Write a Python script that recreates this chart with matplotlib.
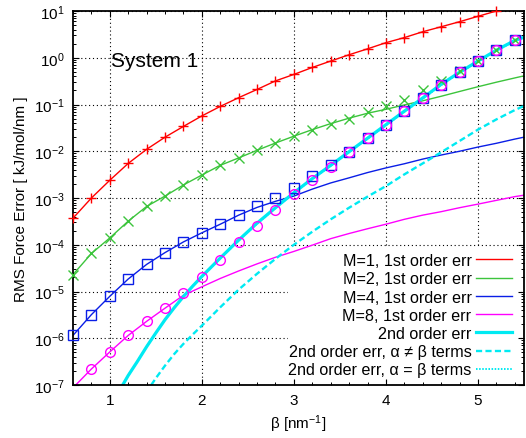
import numpy as np
import matplotlib
matplotlib.use("Agg")
import matplotlib.pyplot as plt
from matplotlib.ticker import LogLocator, MultipleLocator, NullFormatter
from matplotlib.patches import Rectangle

plt.rcParams['font.family'] = ['Liberation Sans', 'DejaVu Sans']
plt.rcParams['mathtext.default'] = 'regular'

# marker data (measured)
beta_m1 = [0.6, 0.8, 1.0, 1.2, 1.4, 1.6, 1.8, 2.0, 2.2, 2.4, 2.6, 2.8, 3.0, 3.2,
           3.4, 3.6, 3.8, 4.0, 4.2, 4.4, 4.6, 4.8, 5.0, 5.2]
err_m1 = [3.7e-4, 1.0e-3, 2.4e-3, 5.5e-3, 1.1e-2, 2.0e-2, 3.4e-2, 5.7e-2, 9.1e-2,
          0.14, 0.21, 0.32, 0.44, 0.62, 0.85, 1.16, 1.55, 2.1, 2.7, 3.6, 4.6, 5.9, 7.7, 10.0]

beta_pts = [0.6, 0.8, 1.0, 1.2, 1.4, 1.6, 1.8, 2.0, 2.2, 2.4, 2.6, 2.8, 3.0, 3.2,
            3.4, 3.6, 3.8, 4.0, 4.2, 4.4, 4.6, 4.8, 5.0, 5.2, 5.4]
err_m2 = [2.3e-5, 6.5e-5, 1.4e-4, 3.2e-4, 6.6e-4, 1.1e-3, 1.9e-3, 3.1e-3, 5.0e-3,
          7.2e-3, 1.05e-2, 1.5e-2, 2.1e-2, 2.9e-2, 3.9e-2, 5.0e-2, 6.8e-2, 9.3e-2,
          0.126, 0.20, 0.32, 0.52, 0.85, 1.45, 2.35]
err_m4 = [1.15e-6, 3.2e-6, 7.9e-6, 1.85e-5, 3.8e-5, 6.8e-5, 1.15e-4, 1.8e-4, 2.75e-4,
          4.4e-4, 6.6e-4, 9.8e-4, 1.66e-3, 2.9e-3, 5.2e-3, 9.8e-3, 1.9e-2, 3.6e-2,
          7.1e-2, 0.14, 0.26, 0.49, 0.85, 1.45, 2.35]
beta_m8 = beta_pts[1:]
err_m8 = [2.2e-7, 5.1e-7, 1.2e-6, 2.3e-6, 4.4e-6, 9.1e-6, 2.0e-5, 4.8e-5, 1.15e-4,
          2.5e-4, 5.6e-4, 1.2e-3, 2.45e-3, 4.7e-3, 9.5e-3, 1.9e-2, 3.6e-2, 7.1e-2,
          0.14, 0.26, 0.49, 0.85, 1.45, 2.35]

# first order estimates (curves)
beta_line = beta_pts + [5.5]
est_m1 = err_m1
est_m2 = [2.3e-5, 6.5e-5, 1.4e-4, 3.2e-4, 6.6e-4, 1.1e-3, 1.9e-3, 3.1e-3, 5.0e-3,
          7.2e-3, 1.05e-2, 1.5e-2, 2.1e-2, 2.9e-2, 3.9e-2, 5.1e-2, 6.5e-2, 7.9e-2,
          9.8e-2, 0.12, 0.15, 0.19, 0.24, 0.30, 0.37, 0.41]
est_m4 = [1.15e-6, 3.2e-6, 7.9e-6, 1.85e-5, 3.8e-5, 6.8e-5, 1.15e-4, 1.8e-4, 2.75e-4,
          4.3e-4, 6.3e-4, 8.5e-4, 1.1e-3, 1.55e-3, 2.1e-3, 2.7e-3, 3.5e-3, 4.4e-3,
          5.4e-3, 6.8e-3, 8.3e-3, 1.0e-2, 1.23e-2, 1.48e-2, 1.82e-2, 2.0e-2]
beta_m8_line = [0.63] + beta_line[1:]
est_m8 = [1.0e-7, 2.2e-7, 5.1e-7, 1.15e-6, 2.3e-6, 4.4e-6, 8.3e-6, 1.26e-5, 1.9e-5,
          2.75e-5, 3.9e-5, 5.4e-5, 7.2e-5, 9.8e-5, 1.35e-4, 1.74e-4, 2.2e-4, 2.75e-4,
          3.5e-4, 4.3e-4, 5.1e-4, 6.2e-4, 7.4e-4, 8.9e-4, 1.07e-3, 1.15e-3]

# second order estimates
beta_2nd = [1.14, 1.2, 1.3, 1.4, 1.5, 1.6, 1.7, 1.8, 1.9, 2.0, 2.2, 2.4, 2.6, 2.8,
            3.0, 3.2, 3.4, 3.6, 3.8, 4.0, 4.2, 4.4, 4.6, 4.8, 5.0, 5.2, 5.4, 5.5]
est_2nd = [1.0e-7, 1.6e-7, 3.2e-7, 6.6e-7, 1.3e-6, 2.5e-6, 4.5e-6, 7.8e-6, 1.3e-5,
           2.1e-5, 5.2e-5, 1.26e-4, 2.9e-4, 6.2e-4, 1.3e-3, 2.6e-3, 5.0e-3, 9.8e-3,
           1.9e-2, 3.7e-2, 7.2e-2, 0.138, 0.27, 0.49, 0.85, 1.45, 2.35, 2.75]
est_2nd_same = [1.0e-7, 1.6e-7, 3.2e-7, 6.6e-7, 1.3e-6, 2.5e-6, 4.5e-6, 7.8e-6, 1.3e-5,
                2.1e-5, 5.1e-5, 1.24e-4, 2.85e-4, 6.1e-4, 1.28e-3, 2.55e-3, 4.9e-3, 9.6e-3,
                1.86e-2, 3.6e-2, 7.0e-2, 0.134, 0.26, 0.48, 0.83, 1.42, 2.3, 2.7]
beta_cross = [1.45, 1.5, 1.6, 1.7, 1.8, 1.9, 2.0, 2.2, 2.4, 2.6, 2.8, 3.0, 3.2, 3.4,
              3.6, 3.8, 4.0, 4.2, 4.4, 4.6, 4.8, 5.0, 5.2, 5.4, 5.5]
est_2nd_cross = [1.0e-7, 1.4e-7, 2.6e-7, 4.6e-7, 7.6e-7, 1.2e-6, 1.86e-6, 4.6e-6, 1.1e-5,
                 2.4e-5, 5.0e-5, 1.0e-4, 1.9e-4, 3.5e-4, 6.2e-4, 1.07e-3, 1.8e-3, 3.2e-3,
                 5.5e-3, 9.5e-3, 1.66e-2, 2.9e-2, 4.8e-2, 7.6e-2, 9.3e-2]

red = '#ff0000'
green = '#3cc43c'
blue = '#0a1ee6'
magenta = '#ff00ff'
cyan = '#00eaf2'

fig = plt.figure(figsize=(5.26, 4.39), dpi=100)
ax = fig.add_axes([73/526, 1 - 386/439, 451/526, 374/439])
ax.set_yscale('log')
ax.set_xlim(0.6, 5.5)
ax.set_ylim(1e-7, 10)

ax.set_axisbelow(True)
ax.grid(True, which='major', color='black', linestyle=(0, (1, 2.5)), linewidth=0.8)

# opaque key background (covers grid only)
ax.add_patch(Rectangle((215/451, 6/374), 1 - 215/451 - 6/451, 131/374,
                       transform=ax.transAxes, facecolor='white', edgecolor='none', zorder=1))

ax.plot(beta_m1, est_m1, color=red, lw=1.0, label='M=1, 1st order err', zorder=2)
ax.plot(beta_line, est_m2, color=green, lw=1.0, label='M=2, 1st order err', zorder=2)
ax.plot(beta_line, est_m4, color=blue, lw=1.0, label='M=4, 1st order err', zorder=2)
ax.plot(beta_m8_line, est_m8, color=magenta, lw=1.0, label='M=8, 1st order err', zorder=2)
ax.plot(beta_2nd, est_2nd_same, color=cyan, lw=1.4, dashes=(0.8, 0.8), zorder=2.05)
ax.plot(beta_2nd, est_2nd, color=cyan, lw=2.3, label='2nd order err', zorder=2.1)
ax.plot(beta_cross, est_2nd_cross, color=cyan, lw=1.7, dashes=(2.6, 1.4),
        label='2nd order err, α ≠ β terms', zorder=2.1)
ax.plot([], [], color=cyan, lw=1.4, dashes=(0.8, 0.8), label='2nd order err, α = β terms')

ax.plot(beta_m1, err_m1, marker='+', color=red, mew=1.0, markersize=7.5,
        linestyle='none', clip_on=False, zorder=3)
ax.plot(beta_pts, err_m2, marker='x', color=green, mew=1.0, markersize=6.5,
        linestyle='none', clip_on=False, zorder=3)
ax.plot(beta_pts, err_m4, marker='s', color=blue, mfc='none', mew=1.0, markersize=7,
        linestyle='none', clip_on=False, zorder=3)
ax.plot(beta_m8, err_m8, marker='o', color=magenta, mfc='none', mew=1.0, markersize=7,
        linestyle='none', clip_on=False, zorder=3)

ax.xaxis.set_major_locator(MultipleLocator(1))
ax.xaxis.set_minor_locator(MultipleLocator(0.2))
ax.yaxis.set_major_locator(LogLocator(base=10, numticks=20))
ax.yaxis.set_minor_locator(LogLocator(base=10, subs=np.arange(2, 10), numticks=20))
ax.yaxis.set_minor_formatter(NullFormatter())
ax.tick_params(which='both', direction='in', top=True, right=True, labelsize=11)
ax.tick_params(which='major', length=4.5, width=0.8, pad=6)
ax.tick_params(which='minor', length=2.5, width=0.7)
for s in ax.spines.values():
    s.set_linewidth(1.3)

ax.set_xlabel('β [nm$^{-1}$]', fontsize=11, labelpad=4)
ax.set_ylabel('RMS Force Error [ kJ/mol/nm ]', fontsize=11, labelpad=4)

ax.text(38/451, (386 - 66.7)/374, 'System 1', transform=ax.transAxes,
        fontsize=15, va='baseline', ha='left')

handles, labels = ax.get_legend_handles_labels()
leg = ax.legend(handles, labels, loc='lower right', bbox_to_anchor=(0.998, -0.01),
                frameon=False, markerfirst=False, fontsize=11.6, handlelength=2.25,
                handletextpad=0.25, labelspacing=0.2, borderpad=0.2)

fig.savefig('out.png', dpi=100)
